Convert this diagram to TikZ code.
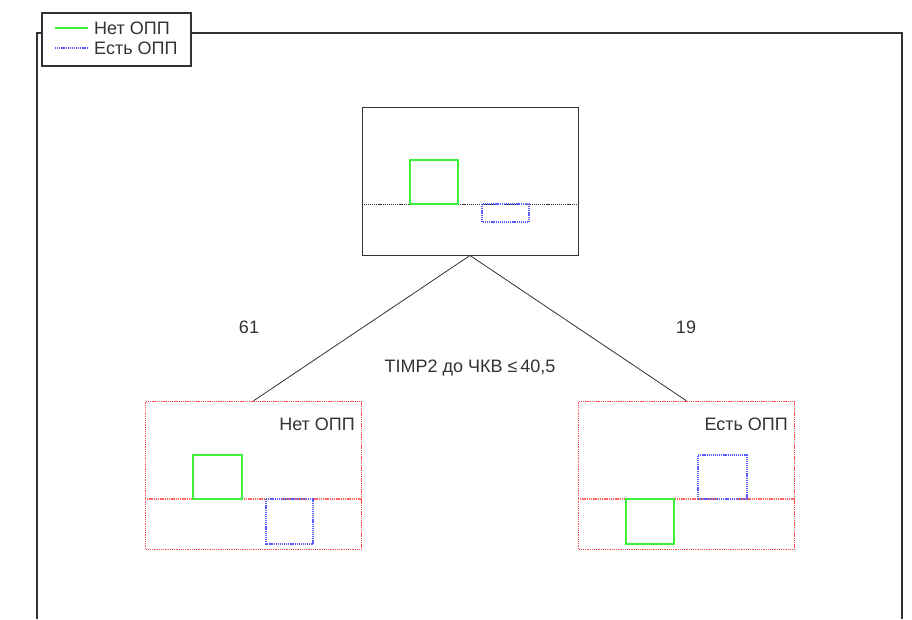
\documentclass[tikz,border=0pt]{standalone}
\usepackage{fontspec}
\setmainfont{Liberation Sans}
\usetikzlibrary{positioning}
\definecolor{Ink}{HTML}{333333}
\definecolor{NoGreen}{HTML}{3CF03C}
\definecolor{YesBlue}{HTML}{5A5AFF}
\definecolor{LeafRed}{HTML}{FF4A4A}
\newcommand{\lbl}{\fontsize{18}{20}\selectfont}
\tikzset{
  frame/.style={draw=Ink,line width=1.2pt},
  split/.style={
    draw=Ink,line width=1pt,fill=white,
    minimum width=216pt,minimum height=148pt,inner sep=0pt
  },
  leaf/.style={
    split,draw=LeafRed,line width=1.4pt,dash pattern=on 1.3pt off 0.9pt
  },
  divider/.style={draw=Ink,line width=0.9pt,dash pattern=on 1.2pt off 0.9pt},
  leafdivider/.style={draw=LeafRed!85,line width=1.2pt,dash pattern=on 1.3pt off 0.9pt},
  nobar/.style={draw=NoGreen,line width=1.4pt},
  yesbar/.style={draw=YesBlue,line width=1.2pt,dash pattern=on 1.2pt off 0.9pt},
  edge/.style={draw=Ink,line width=0.8pt},
  caption/.style={font=\lbl,text=Ink,inner sep=0pt}
}
\begin{document}
\begin{tikzpicture}[x=1pt,y=-1pt]
  \useasboundingbox (0,0) rectangle (912,619);
  \fill[white] (0,0) rectangle (912,619);
  % outer frame
  \draw[frame] (37,619) -- (37,33) -- (902,33) -- (902,619);
  % legend
  \node[frame,fill=white,minimum width=149pt,minimum height=53pt,inner sep=0pt]
    (legend) at (116.5,39.5) {};
  \coordinate (keyno) at (55,28);
  \coordinate (keyyes) at (55,48);
  \draw[nobar] (keyno) -- ++(33,0);
  \draw[yesbar] (keyyes) -- ++(33,0);
  \node[caption,anchor=west] (legno) at (94,28) {Нет ОПП};
  \node[caption,anchor=west] (legyes) at (94,48) {Есть ОПП};
  % tree nodes
  \node[split] (root) at (470,181) {};
  \node[leaf] (left) at (253.5,475.5) {};
  \node[leaf] (right) at (686.5,475.5) {};
  \draw[edge] (root.south) -- (left.north);
  \draw[edge] (root.south) -- (right.north);
  % root node
  \draw[divider] (root.west |- 0,204) -- (root.east |- 0,204);
  \draw[nobar] (410,204) rectangle (458,160);
  \draw[yesbar] (482,204) rectangle (529,222);
  % left leaf
  \draw[leafdivider] (left.west |- 0,499) -- (left.east |- 0,499);
  \draw[nobar] (193,499) rectangle (242,455);
  \draw[yesbar] (266,499) rectangle (313,544);
  \node[caption,anchor=east] (lefttitle) at (355,424) {Нет ОПП};
  % right leaf
  \draw[leafdivider] (right.west |- 0,499) -- (right.east |- 0,499);
  \draw[yesbar] (698,499) rectangle (747,455);
  \draw[nobar] (626,499) rectangle (674,544);
  \node[caption,anchor=east] (righttitle) at (788,424) {Есть ОПП};
  % split labels
  \node[caption] (nleft) at (249,327) {61};
  \node[caption] (nright) at (686,327) {19};
  \node[caption] (rule) at (470,368) {TIMP2 до ЧКВ ≤\,40,5};
\end{tikzpicture}
\end{document}
